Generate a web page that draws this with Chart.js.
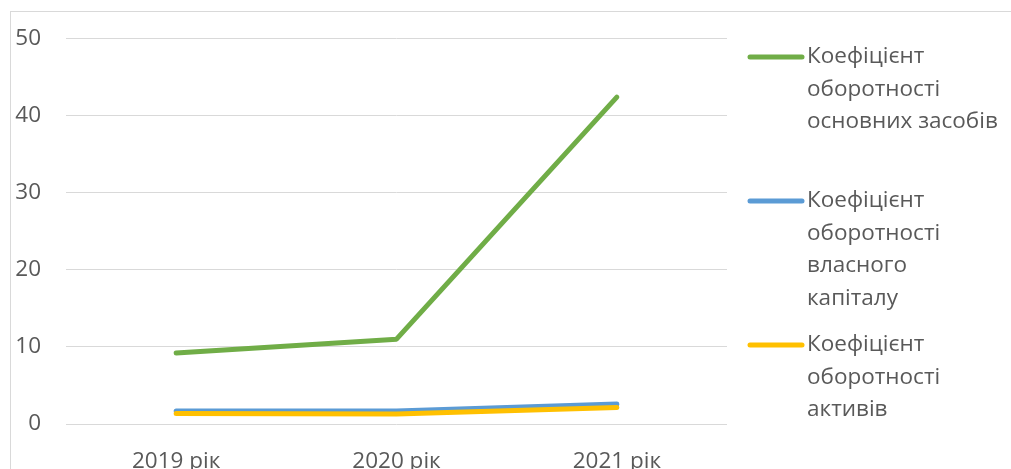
<!DOCTYPE html>
<html lang="uk">

<head>
    <meta charset="UTF-8">
    <title>Коефіцієнти оборотності</title>
    <script src="https://cdn.jsdelivr.net/npm/chart.js"></script>
    <style>
        html, body {
            margin: 0;
            padding: 0;
            background: #fff;
            overflow: hidden;
        }

        .chart-box {
            position: relative;
            width: 1011px;
            height: 469px;
        }

        /* thin frame of the chart area, runs off the right and bottom edges */
        .frame {
            position: absolute;
            left: 10px;
            top: 11px;
            width: 1100px;
            height: 600px;
            border: 1px solid #d9d9d9;
            pointer-events: none;
        }
    </style>
</head>

<body>
    <div class="chart-box">
        <canvas id="turnoverChart" width="1011" height="469"></canvas>
        <div class="frame"></div>
    </div>

    <script>
        const years = ['2019 рік', '2020 рік', '2021 рік'];

        const fixedAssetsTurnover = [9.2, 11.0, 42.4];
        const equityTurnover = [1.7, 1.7, 2.6];
        const assetsTurnover = [1.35, 1.3, 2.15];

        // legend text, already broken into lines
        const fixedAssetsLabel = ['Коефіцієнт', 'оборотності', 'основних засобів'];
        const equityLabel = ['Коефіцієнт', 'оборотності', 'власного', 'капіталу'];
        const assetsLabel = ['Коефіцієнт', 'оборотності', 'активів'];

        const textColor = '#595959';
        const fontFamily = "'Open Sans', 'Noto Sans', sans-serif";
        const fontSize = 22.5;

        // right-hand legend with wrapped labels
        const sideLegend = {
            id: 'sideLegend',
            afterDraw(chart) {
                const ctx = chart.ctx;
                const sets = chart.data.datasets;
                ctx.save();
                ctx.font = fontSize + 'px ' + fontFamily;
                ctx.fillStyle = textColor;
                ctx.textBaseline = 'middle';
                ctx.textAlign = 'left';
                sets.forEach((ds, i) => {
                    const y0 = 57 + i * 144;
                    ctx.strokeStyle = ds.borderColor;
                    ctx.lineWidth = 5;
                    ctx.lineCap = 'round';
                    ctx.beginPath();
                    ctx.moveTo(750, y0);
                    ctx.lineTo(802, y0);
                    ctx.stroke();
                    ds.legendLines.forEach((line, j) => {
                        ctx.fillText(line, 807, y0 + j * 32.5);
                    });
                });
                ctx.restore();
            }
        };

        function lineSet(lines, data, color, order) {
            return {
                label: lines.join(' '),
                legendLines: lines,
                data: data,
                borderColor: color,
                backgroundColor: color,
                borderWidth: 5,
                borderCapStyle: 'round',
                borderJoinStyle: 'round',
                pointRadius: 0,
                fill: false,
                tension: 0,
                order: order
            };
        }

        new Chart(document.getElementById('turnoverChart'), {
            type: 'line',
            data: {
                labels: years,
                datasets: [
                    lineSet(fixedAssetsLabel, fixedAssetsTurnover, '#70AD47', 2),
                    lineSet(equityLabel, equityTurnover, '#5B9BD5', 1),
                    lineSet(assetsLabel, assetsTurnover, '#FFC000', 0)
                ]
            },
            options: {
                responsive: false,
                animation: false,
                layout: {
                    padding: { top: 33, right: 284, left: 0, bottom: 0 }
                },
                plugins: {
                    legend: { display: false },
                    tooltip: { enabled: false }
                },
                scales: {
                    x: {
                        offset: true,
                        grid: { display: false, drawTicks: false },
                        border: { display: false },
                        ticks: {
                            color: textColor,
                            font: { family: fontFamily, size: fontSize },
                            padding: 24,
                            maxRotation: 0
                        },
                        afterFit(scale) { scale.height = 45; }
                    },
                    y: {
                        min: 0,
                        max: 50,
                        ticks: {
                            stepSize: 10,
                            color: textColor,
                            font: { family: fontFamily, size: fontSize },
                            padding: 25
                        },
                        grid: { color: '#d9d9d9', lineWidth: 1, drawTicks: false },
                        border: { display: false },
                        afterFit(scale) { scale.width = 66; }
                    }
                }
            },
            plugins: [sideLegend]
        });
    </script>
</body>

</html>
